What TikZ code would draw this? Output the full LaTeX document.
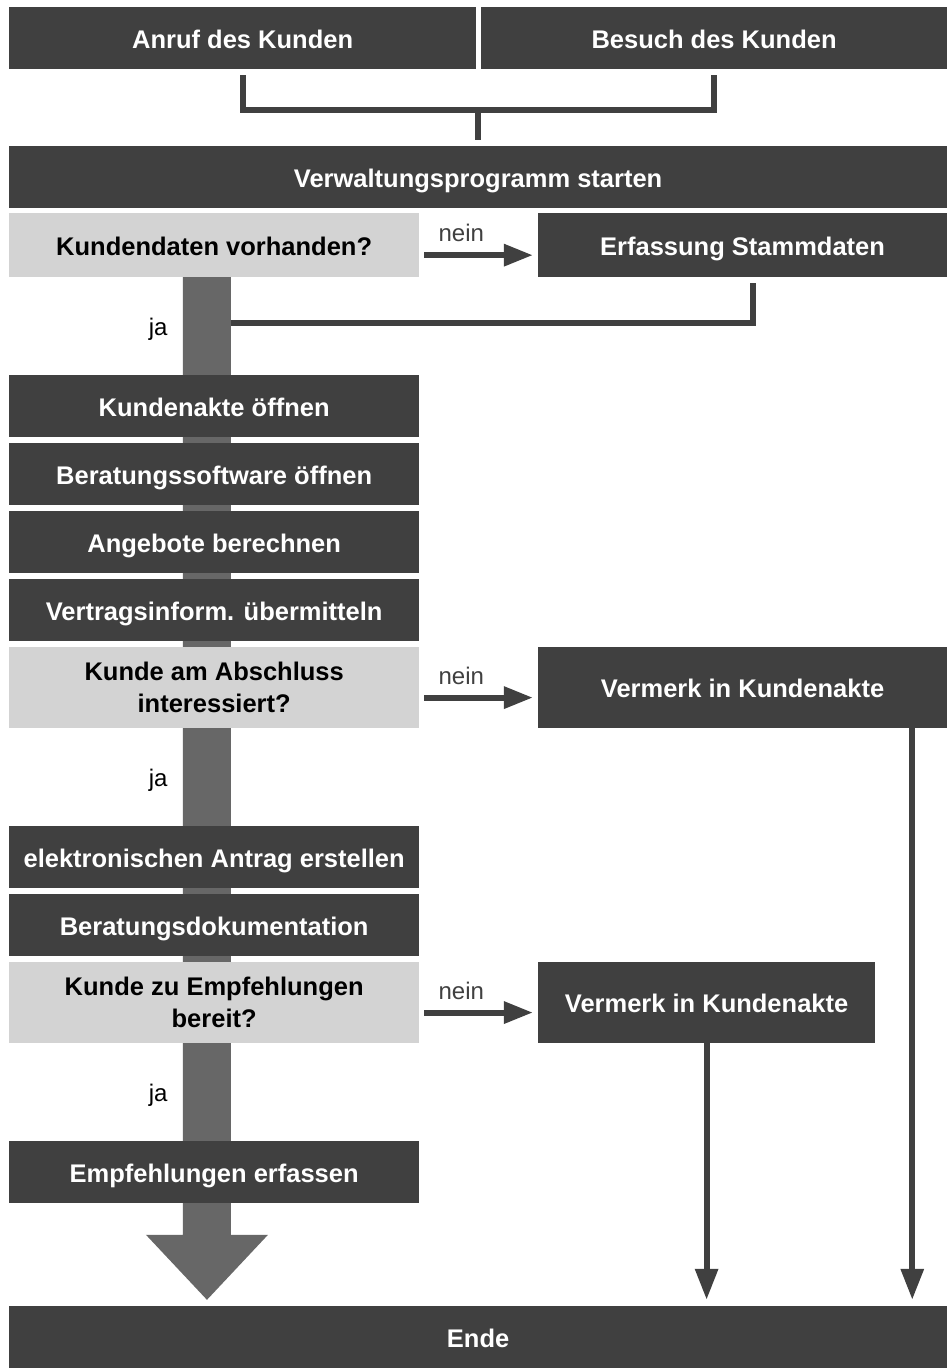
\documentclass[tikz,border=0pt]{standalone}
\usepackage{fontspec}
\setmainfont{Liberation Sans}
\usetikzlibrary{arrows.meta,positioning,calc,backgrounds}
\definecolor{Dark}{HTML}{404040}
\definecolor{Light}{HTML}{D3D3D3}
\definecolor{Bar}{HTML}{676767}

\tikzset{
  box/.style={fill=Dark,text=white,font=\bfseries\fontsize{25.5}{32}\selectfont,align=center,
    anchor=north west,inner sep=0pt,minimum width=410pt,minimum height=62pt,
    text height=22pt,text depth=2pt},
  ask/.style={box,fill=Light,text=black},
  two/.style={text height=,text depth=},
  conn/.style={Dark,line width=6pt},
  nein/.style={conn,-{Triangle[length=29pt,width=21pt]}},
  down/.style={Dark,line width=6pt,-{Triangle[length=31pt,width=22pt]}},
  lbl/.style={font=\fontsize{24}{28}\selectfont,inner sep=0pt},
}

\begin{document}
\begin{tikzpicture}[x=1pt,y=-1pt]
    % Einstieg
    \node[box,minimum width=467pt] (anruf) at (9,7) {Anruf des Kunden};
    \node[box,minimum width=466pt] (besuch) at (481,7) {Besuch des Kunden};
    \node[box,minimum width=938pt] (start) at (9,146) {Verwaltungsprogramm starten};
    % linke Spalte
    \node[ask,minimum height=64pt] (q1) at (9,213) {Kundendaten vorhanden?};
    \node[box,minimum width=409pt,minimum height=64pt] (erf) at (538,213) {Erfassung Stammdaten};
    \node[box] (akte) at (9,375) {Kundenakte öffnen};
    \node[box] (soft) at (9,443) {Beratungssoftware öffnen};
    \node[box] (ang) at (9,511) {Angebote berechnen};
    \node[box] (vtr) at (9,579) {Vertragsinform. übermitteln};
    \node[ask,two,minimum height=81pt] (q2) at (9,647) {Kunde am Abschluss\\interessiert?};
    \node[box,minimum width=409pt,minimum height=81pt] (verm1) at (538,647) {Vermerk in Kundenakte};
    \node[box] (antr) at (9,826) {elektronischen Antrag erstellen};
    \node[box] (doku) at (9,894) {Beratungsdokumentation};
    \node[ask,two,minimum height=81pt] (q3) at (9,962) {Kunde zu Empfehlungen\\bereit?};
    \node[box,minimum width=337pt,minimum height=81pt] (verm2) at (538,962) {Vermerk in Kundenakte};
    \node[box] (empf) at (9,1141) {Empfehlungen erfassen};
    \node[box,minimum width=938pt] (ende) at (9,1306) {Ende};

    % Hauptstrang als breiter Pfeil hinter den Kaesten
    \coordinate (t) at (207,277);
    \coordinate (tip) at (t |- ende.north);
    \begin{scope}[on background layer]
      \fill[white] (0,0) rectangle (947,1368);
      \fill[Bar] ($(t)+(-24,0)$) -- ($(t)+(24,0)$) -- ($(tip)+(24,-71)$) -- ($(tip)+(61,-71)$)
        -- ($(tip)+(0,-6)$) -- ($(tip)+(-61,-71)$) -- ($(tip)+(-24,-71)$) -- cycle;
    \end{scope}

    % Klammer oben
    \draw[conn] ([yshift=-6pt]anruf.south) -- ++(0,35) coordinate (kl) -| ([yshift=-6pt]besuch.south);
    \draw[conn] (kl -| start.north) -- ([yshift=6pt]start.north);

    % nein-Zweige
    \draw[nein] ([shift={(5pt,-10pt)}]q1.east) -- ([shift={(-5pt,-10pt)}]erf.west) node[lbl,pos=0.34,above=10pt] {nein};
    \draw[nein] ([shift={(5pt,-10pt)}]q2.east) -- ([shift={(-5pt,-10pt)}]verm1.west) node[lbl,pos=0.34,above=10pt] {nein};
    \draw[nein] ([shift={(5pt,-10pt)}]q3.east) -- ([shift={(-5pt,-10pt)}]verm2.west) node[lbl,pos=0.34,above=10pt] {nein};
    \draw[conn] ([xshift=10pt,yshift=-6pt]erf.south) |- ($(t)+(24,46)$);
    \draw[down] ([xshift=-35pt]verm1.south east) -- ([xshift=-35pt,yshift=6pt]verm1.south east |- ende.north);
    \draw[down] (verm2.south) -- ([yshift=6pt]verm2.south |- ende.north);

    % ja-Beschriftungen
    \node[lbl] (ja1) at ($(q1.south)!0.5!(akte.north)+(-56,3)$) {ja};
    \node[lbl] (ja2) at ($(q2.south)!0.5!(antr.north)+(-56,3)$) {ja};
    \node[lbl] (ja3) at ($(q3.south)!0.5!(empf.north)+(-56,3)$) {ja};
\end{tikzpicture}
\end{document}
